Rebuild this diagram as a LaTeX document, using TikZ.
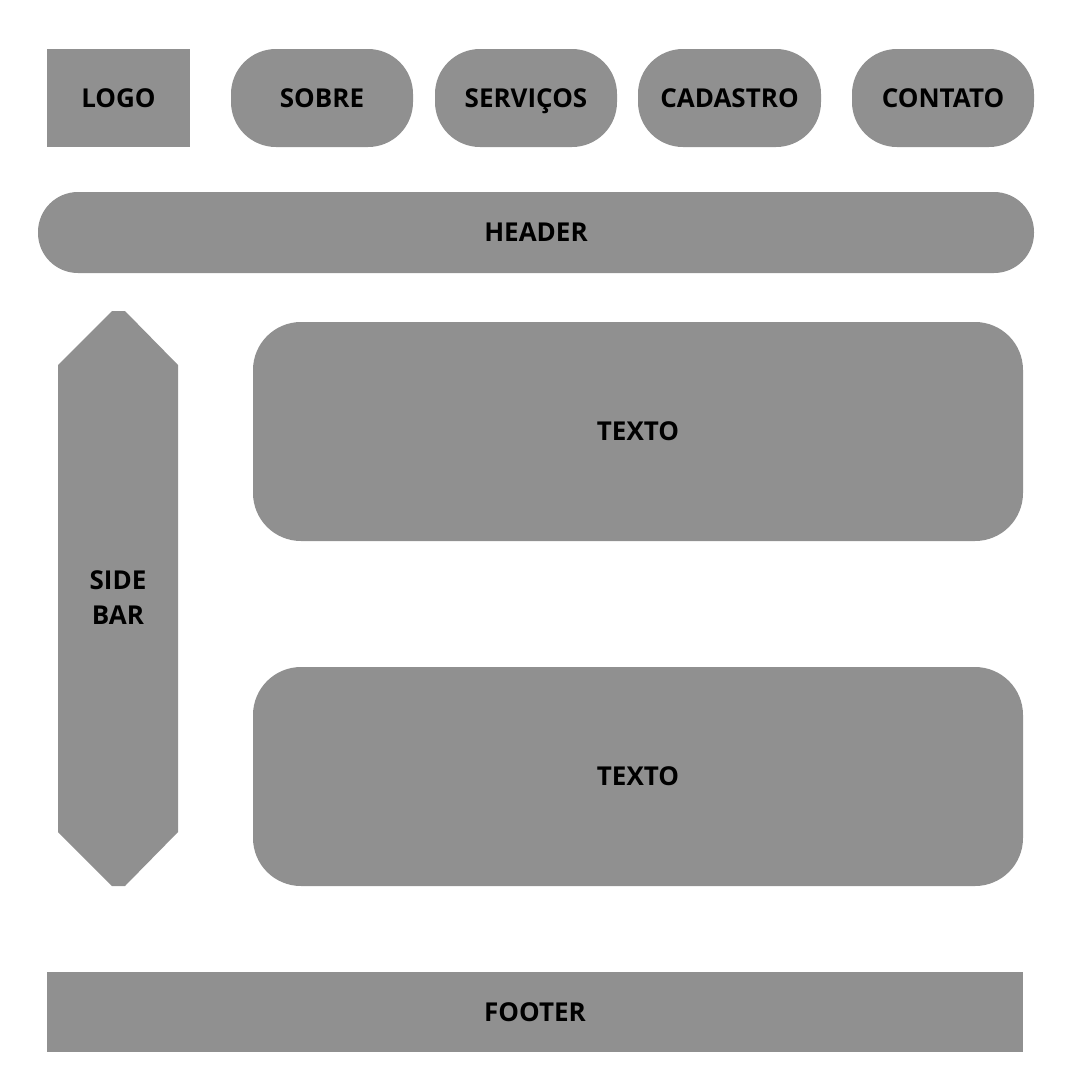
\documentclass[tikz,border=0pt]{standalone}
\usepackage{fontspec}
\setmainfont{Open Sans}
\definecolor{boxgray}{RGB}{144,144,144}
\tikzset{
  blk/.style={fill=boxgray, draw=none, inner sep=0pt, text depth=0pt, font=\fontsize{26}{35}\selectfont\bfseries, text=black, align=center},
  pill/.style={blk, rounded corners=45pt},
  lbl/.style={inner sep=0pt, font=\fontsize{26}{35}\selectfont\bfseries, text=black, align=center}
}
\begin{document}
\begin{tikzpicture}[x=1pt,y=-1pt]
\useasboundingbox[fill=white] (0,0) rectangle (1080,1080);
% top row
\node[blk, minimum width=143pt, minimum height=98pt] (logo) at (118.5,98) {LOGO};
\node[pill, minimum width=182pt, minimum height=98pt] (sobre) at (322,98) {SOBRE};
\node[pill, minimum width=182pt, minimum height=98pt] (servicos) at (526,98) {SERVIÇOS};
\node[pill, minimum width=183pt, minimum height=98pt] (cadastro) at (729.5,98) {CADASTRO};
\node[pill, minimum width=182pt, minimum height=98pt] (contato) at (943,98) {CONTATO};
% header
\node[blk, rounded corners=40pt, minimum width=996pt, minimum height=81pt] (header) at (536,232.5) {HEADER};
% sidebar
\fill[boxgray] (58,365) -- (112,311) -- (125,311) -- (178,365) -- (178,832) -- (125,886) -- (112,886) -- (58,832) -- cycle;
\node[lbl] (sidebar) at (118,598) {SIDE\\BAR};
% text blocks
\node[blk, rounded corners=48pt, minimum width=770pt, minimum height=219pt] (texto1) at (638,431.5) {TEXTO};
\node[blk, rounded corners=48pt, minimum width=770pt, minimum height=219pt] (texto2) at (638,776.5) {TEXTO};
% footer
\node[blk, minimum width=976pt, minimum height=80pt] (footer) at (535,1012) {FOOTER};
\end{tikzpicture}
\end{document}
